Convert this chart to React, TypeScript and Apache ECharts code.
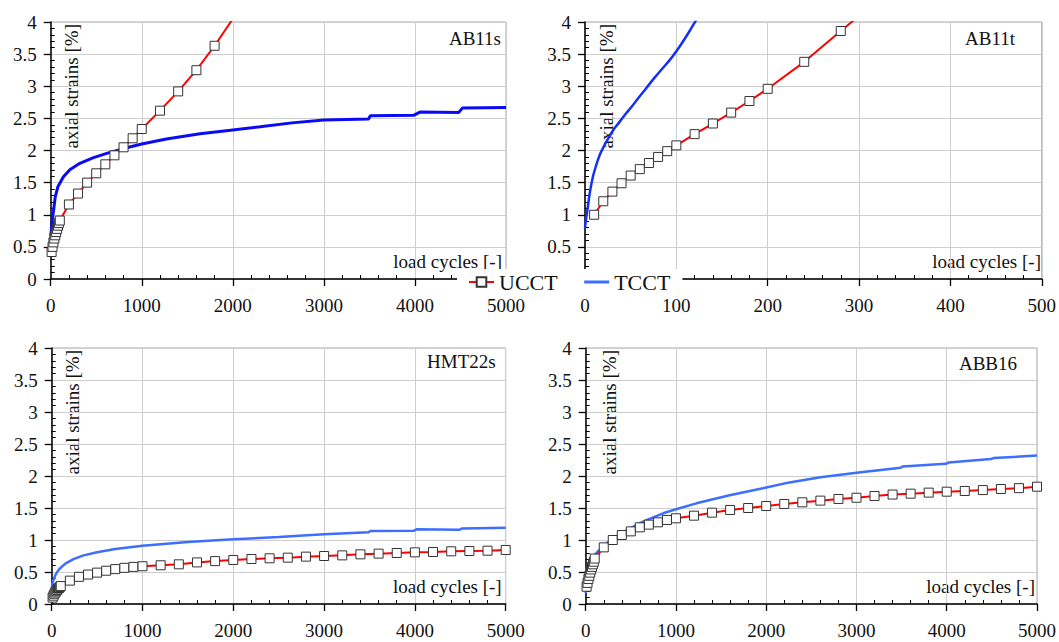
import React, { useEffect, useRef } from "react";
import * as echarts from "echarts";

const FONT = "Liberation Serif";

const strainTicks = [0, 4, 0.5]; // min, max, step of the strain axis

// AB11s
const ab11sUcctCycles = [10, 20, 30, 40, 50, 60, 70, 80, 90, 100, 200, 300, 400, 500, 600, 700, 800, 900, 1000, 1200, 1400, 1600, 1800, 2000];
const ab11sUcctStrain = [0.42, 0.5, 0.57, 0.63, 0.68, 0.73, 0.78, 0.83, 0.87, 0.91, 1.16, 1.33, 1.5, 1.645, 1.785, 1.925, 2.05, 2.19, 2.335, 2.62, 2.92, 3.25, 3.63, 4.05];
const ab11sTcctCycles = [0, 10, 20, 30, 50, 80, 140, 210, 320, 470, 650, 800, 1000, 1270, 1640, 2000, 2300, 2650, 3000, 3490, 3510, 3990, 4060, 4480, 4520, 5000];
const ab11sTcctStrain = [0.68, 0.8, 0.95, 1.05, 1.28, 1.44, 1.59, 1.7, 1.8, 1.89, 1.97, 2.03, 2.1, 2.18, 2.26, 2.32, 2.37, 2.43, 2.475, 2.49, 2.54, 2.55, 2.6, 2.59, 2.66, 2.67];

// AB11t
const ab11tUcctCycles = [10, 20, 30, 40, 50, 60, 70, 80, 90, 100, 120, 140, 160, 180, 200, 240, 280, 320];
const ab11tUcctStrain = [1.0, 1.21, 1.36, 1.49, 1.61, 1.71, 1.805, 1.9, 1.99, 2.08, 2.255, 2.42, 2.59, 2.77, 2.96, 3.38, 3.86, 4.33];
const ab11tTcctCycles = [0, 1, 3, 5, 7, 9, 12, 15, 18, 22, 26, 31, 37, 44, 51, 58, 67, 76, 85, 94, 100, 106, 113, 120, 125];
const ab11tTcctStrain = [0.79, 0.92, 1.11, 1.32, 1.48, 1.61, 1.76, 1.89, 1.99, 2.1, 2.2, 2.32, 2.43, 2.56, 2.68, 2.81, 2.97, 3.13, 3.28, 3.43, 3.545, 3.67, 3.825, 3.99, 4.11];

// HMT22s
const hmt22sUcctCycles = [10, 20, 30, 40, 50, 60, 70, 80, 90, 100, 200, 300, 400, 500, 600, 700, 800, 900, 1000, 1200, 1400, 1600, 1800, 2000, 2200, 2400, 2600, 2800, 3000, 3200, 3400, 3600, 3800, 4000, 4200, 4400, 4600, 4800, 5000];
const hmt22sUcctStrain = [0.1, 0.13, 0.16, 0.18, 0.2, 0.22, 0.24, 0.25, 0.265, 0.28, 0.365, 0.425, 0.46, 0.49, 0.52, 0.545, 0.565, 0.58, 0.59, 0.605, 0.62, 0.65, 0.67, 0.688, 0.703, 0.714, 0.724, 0.74, 0.75, 0.76, 0.776, 0.787, 0.797, 0.807, 0.813, 0.823, 0.828, 0.833, 0.844];
const hmt22sTcctCycles = [0, 10, 20, 40, 60, 90, 150, 240, 350, 500, 700, 1000, 1500, 2000, 2500, 3000, 3490, 3510, 3990, 4020, 4490, 4520, 5000];
const hmt22sTcctStrain = [0.25, 0.33, 0.38, 0.45, 0.5, 0.555, 0.63, 0.7, 0.76, 0.81, 0.86, 0.91, 0.97, 1.01, 1.045, 1.09, 1.12, 1.14, 1.146, 1.167, 1.16, 1.18, 1.19];

// ABB16
const abb16UcctCycles = [10, 20, 30, 40, 50, 60, 70, 80, 90, 100, 200, 300, 400, 500, 600, 700, 800, 900, 1000, 1200, 1400, 1600, 1800, 2000, 2200, 2400, 2600, 2800, 3000, 3200, 3400, 3600, 3800, 4000, 4200, 4400, 4600, 4800, 5000];
const abb16UcctStrain = [0.27, 0.33, 0.39, 0.44, 0.49, 0.54, 0.58, 0.62, 0.66, 0.71, 0.885, 1.0, 1.078, 1.135, 1.198, 1.24, 1.276, 1.313, 1.339, 1.38, 1.427, 1.469, 1.5, 1.531, 1.563, 1.589, 1.615, 1.641, 1.66, 1.688, 1.71, 1.724, 1.74, 1.755, 1.766, 1.78, 1.797, 1.81, 1.833];
const abb16TcctCycles = [0, 10, 25, 50, 100, 140, 195, 250, 305, 400, 490, 580, 674, 858, 1000, 1227, 1594, 1963, 2257, 2600, 3000, 3490, 3510, 3990, 4020, 4490, 4520, 5000];
const abb16TcctStrain = [0.17, 0.4, 0.52, 0.635, 0.765, 0.83, 0.895, 0.97, 1.026, 1.11, 1.18, 1.25, 1.31, 1.417, 1.48, 1.573, 1.7, 1.81, 1.9, 1.98, 2.05, 2.13, 2.15, 2.19, 2.21, 2.265, 2.28, 2.32];

const specimenNames = ["AB11s", "AB11t", "HMT22s", "ABB16"];
const cycleAxisMax = [5000, 500, 5000, 5000];
const cycleAxisStep = [1000, 100, 1000, 1000];

const legendNames = ["UCCT", "TCCT"];
const xAxisTitle = "load cycles [-]";
const yAxisTitle = "axial strains [%]";

const pairs = (xs: number[], ys: number[]) => xs.map((x, i) => [x, ys[i]]);

const panelData = [
  { ucct: pairs(ab11sUcctCycles, ab11sUcctStrain), tcct: pairs(ab11sTcctCycles, ab11sTcctStrain) },
  { ucct: pairs(ab11tUcctCycles, ab11tUcctStrain), tcct: pairs(ab11tTcctCycles, ab11tTcctStrain) },
  { ucct: pairs(hmt22sUcctCycles, hmt22sUcctStrain), tcct: pairs(hmt22sTcctCycles, hmt22sTcctStrain) },
  { ucct: pairs(abb16UcctCycles, abb16UcctStrain), tcct: pairs(abb16TcctCycles, abb16TcctStrain) },
];

// plot rectangles and per-panel styling
const layout = [
  { left: 50.7, top: 22, width: 455.3, height: 257, tcctColor: "#0a0af5", tcctWidth: 3, tcctSmooth: false, titleDx: 5, titleDy: 16, yTitleDx: 21 },
  { left: 585, top: 22, width: 460, height: 257, tcctColor: "#1530f5", tcctWidth: 2.5, tcctSmooth: 0.4, titleDx: 30, titleDy: 16, yTitleDx: 21 },
  { left: 51.7, top: 348, width: 454, height: 256, tcctColor: "#3d6eff", tcctWidth: 2.5, tcctSmooth: false, titleDx: 10, titleDy: 13, yTitleDx: 21 },
  { left: 585.7, top: 348, width: 453.3, height: 256, tcctColor: "#3d6eff", tcctWidth: 2.5, tcctSmooth: false, titleDx: 22, titleDy: 15, yTitleDx: 24 },
];

const axisLine = { show: true, onZero: false, lineStyle: { color: "#000", width: 1.5 } };
const axisTick = { show: true, length: 7, lineStyle: { color: "#000", width: 1.3 } };
const minorTick = { show: true, splitNumber: 5, length: -4, lineStyle: { color: "#000", width: 1 } };
const splitLine = { show: true, lineStyle: { color: "#cdcdcd", width: 1 } };
const labelStyle = { fontFamily: FONT, fontSize: 19, color: "#111" };
const plainNumber = (v: number) => String(v);

function textEl(x: number, y: number, text: string, extra: any = {}) {
  return {
    type: "text",
    x,
    y,
    ...extra,
    style: { text, fontFamily: FONT, fontSize: 19, fill: "#111", align: "right", verticalAlign: "middle" },
  };
}

function buildOption() {
  const grid = layout.map((l) => ({
    left: l.left,
    top: l.top,
    width: l.width,
    height: l.height,
    show: true,
    borderColor: "#a8a8a8",
    borderWidth: 1,
    backgroundColor: "transparent",
    containLabel: false,
  }));

  const xAxis = layout.map((_, i) => ({
    type: "value",
    gridIndex: i,
    min: 0,
    max: cycleAxisMax[i],
    interval: cycleAxisStep[i],
    axisLine,
    axisTick,
    minorTick,
    splitLine,
    axisLabel: { ...labelStyle, margin: 17, formatter: plainNumber },
  }));

  const yAxis = layout.map((_, i) => ({
    type: "value",
    gridIndex: i,
    min: strainTicks[0],
    max: strainTicks[1],
    interval: strainTicks[2],
    axisLine,
    axisTick,
    minorTick,
    splitLine,
    axisLabel: { ...labelStyle, margin: 14, formatter: plainNumber },
  }));

  const series: any[] = [];
  panelData.forEach((p, i) => {
    series.push({
      name: "TCCT",
      type: "line",
      xAxisIndex: i,
      yAxisIndex: i,
      data: p.tcct,
      showSymbol: false,
      symbol: "none",
      smooth: layout[i].tcctSmooth,
      z: 2,
      lineStyle: { color: layout[i].tcctColor, width: layout[i].tcctWidth },
      itemStyle: { color: layout[i].tcctColor },
    });
    series.push({
      name: "UCCT",
      type: "line",
      xAxisIndex: i,
      yAxisIndex: i,
      data: p.ucct,
      symbol: "rect",
      symbolSize: 9,
      z: 3,
      lineStyle: { color: "#ff0000", width: 2 },
      itemStyle: { color: "#ffffff", borderColor: "#333333", borderWidth: 1 },
    });
  });

  const graphic: any[] = [];
  layout.forEach((l, i) => {
    graphic.push(textEl(l.left + l.width - l.titleDx, l.top + l.titleDy, specimenNames[i]));
    graphic.push(textEl(l.left + l.width - 4, l.top + l.height - 18, xAxisTitle));
    graphic.push(textEl(l.left + l.yTitleDx, l.top + 2, yAxisTitle, { rotation: Math.PI / 2 }));
  });

  return {
    animation: false,
    backgroundColor: "#ffffff",
    grid,
    xAxis,
    yAxis,
    series,
    graphic,
    legend: {
      left: 457,
      top: 269,
      orient: "horizontal",
      backgroundColor: "#ffffff",
      padding: [2, 12, 2, 11],
      itemGap: 25,
      itemWidth: 25,
      itemHeight: 12,
      z: 10,
      textStyle: { fontFamily: FONT, fontSize: 22, color: "#111" },
      data: [
        { name: legendNames[0] },
        {
          name: legendNames[1],
          itemStyle: { color: "#3d6eff", opacity: 0, borderWidth: 0 },
          lineStyle: { color: "#3d6eff", width: 3, opacity: 1 },
        },
      ],
    },
  };
}

export default function App() {
  const ref = useRef<HTMLDivElement>(null);
  useEffect(() => {
    if (!ref.current) return;
    const chart = echarts.init(ref.current, undefined, { renderer: "svg" });
    chart.setOption(buildOption() as any);
    return () => chart.dispose();
  }, []);
  return (
    <div
      ref={ref}
      style={{ position: "fixed", left: 0, top: 0, width: 1059, height: 642, background: "#fff" }}
    />
  );
}
